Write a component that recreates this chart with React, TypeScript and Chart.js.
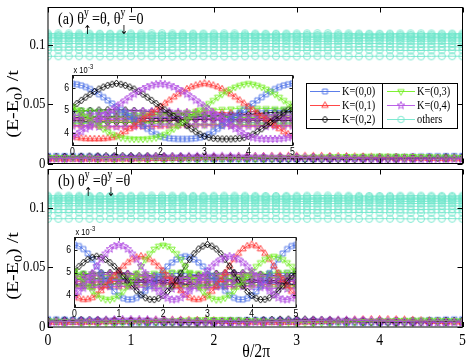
import React, { useEffect, useRef } from 'react';
import { Chart, registerables } from 'chart.js';
Chart.register(...registerables);

// ---------------- data (energies in units of 1e-3 t) ----------------
const X_MAIN = [0,0.125,0.25,0.375,0.5,0.625,0.75,0.875,1,1.125,1.25,1.375,1.5,1.625,1.75,1.875,2,2.125,2.25,2.375,2.5,2.625,2.75,2.875,3,3.125,3.25,3.375,3.5,3.625,3.75,3.875,4,4.125,4.25,4.375,4.5,4.625,4.75,4.875,5];
const X_FINE = [0,0.1,0.2,0.3,0.4,0.5,0.6,0.7,0.8,0.9,1,1.1,1.2,1.3,1.4,1.5,1.6,1.7,1.8,1.9,2,2.1,2.2,2.3,2.4,2.5,2.6,2.7,2.8,2.9,3,3.1,3.2,3.3,3.4,3.5,3.6,3.7,3.8,3.9,4,4.1,4.2,4.3,4.4,4.5,4.6,4.7,4.8,4.9,5];
const X_COARSE = [0,0.2,0.4,0.6,0.8,1,1.2,1.4,1.6,1.8,2,2.2,2.4,2.6,2.8,3,3.2,3.4,3.6,3.8,4,4.2,4.4,4.6,4.8,5];

const X_TICKS = [0,1,2,3,4,5];
const X_TICK_LABELS = ['0','1','2','3','4','5'];
const Y_MAIN_TICKS = [0,0.05,0.1];
const Y_MAIN_TICK_LABELS = ['0','0.05','0.1'];
const Y_INSET_TICKS = [4,5,6];
const Y_INSET_TICK_LABELS = ['4','5','6'];
const LEGEND_LABELS = ['K=(0,0)','K=(0,1)','K=(0,2)','K=(0,3)','K=(0,4)','others'];

// "others" (cyan) levels, main panels
const OTHERS_1 = [110.0,110.1,110.1,110.0,109.9,109.8,109.8,109.9,110.0,110.1,110.2,110.2,110.1,110.0,109.9,109.9,110.0,110.1,110.1,110.0,109.9,109.8,109.8,109.9,110.0,110.1,110.2,110.2,110.1,110.0,109.9,109.8,109.8,109.9,110.0,110.1,110.1,110.0,109.9,109.9,110.0];
const OTHERS_2 = [108.9,108.8,108.8,108.9,109.0,109.1,109.1,109.0,108.9,108.8,108.7,108.7,108.8,108.9,109.0,109.0,108.9,108.8,108.8,108.9,109.0,109.1,109.1,109.0,108.9,108.8,108.7,108.7,108.8,108.9,109.0,109.1,109.1,109.0,108.9,108.8,108.8,108.9,109.0,109.0,108.9];
const OTHERS_3 = [107.8,107.9,108.0,108.0,107.9,107.8,107.7,107.6,107.6,107.7,107.8,107.9,108.0,108.0,107.9,107.8,107.7,107.7,107.8,107.9,108.0,108.0,107.9,107.8,107.7,107.6,107.6,107.7,107.8,107.9,108.0,108.0,107.9,107.8,107.7,107.6,107.6,107.7,107.8,107.8,107.8];
const OTHERS_4 = [106.6,106.5,106.5,106.6,106.7,106.8,106.8,106.7,106.6,106.5,106.4,106.4,106.5,106.6,106.7,106.8,106.8,106.7,106.6,106.5,106.5,106.6,106.7,106.8,106.8,106.7,106.6,106.5,106.4,106.4,106.5,106.6,106.7,106.8,106.8,106.7,106.6,106.5,106.5,106.6,106.6];
const OTHERS_5 = [105.4,105.5,105.6,105.6,105.5,105.4,105.3,105.2,105.2,105.3,105.4,105.5,105.6,105.6,105.5,105.4,105.3,105.3,105.4,105.5,105.6,105.6,105.5,105.4,105.3,105.2,105.2,105.3,105.4,105.5,105.6,105.6,105.5,105.4,105.3,105.2,105.2,105.3,105.4,105.4,105.4];
const OTHERS_6 = [103.6,103.5,103.5,103.6,103.7,103.8,103.8,103.7,103.6,103.5,103.4,103.4,103.5,103.6,103.7,103.7,103.6,103.5,103.5,103.6,103.7,103.8,103.8,103.7,103.6,103.5,103.4,103.4,103.5,103.6,103.7,103.8,103.8,103.7,103.6,103.5,103.5,103.6,103.7,103.7,103.6];
const OTHERS_7 = [101.4,101.5,101.6,101.6,101.5,101.4,101.3,101.2,101.2,101.3,101.4,101.5,101.6,101.6,101.5,101.4,101.3,101.3,101.4,101.5,101.6,101.6,101.5,101.4,101.3,101.2,101.2,101.3,101.4,101.5,101.6,101.6,101.5,101.4,101.3,101.2,101.2,101.3,101.4,101.4,101.4];
const OTHERS_8 = [98.6,98.5,98.5,98.6,98.7,98.8,98.8,98.7,98.6,98.5,98.4,98.4,98.5,98.6,98.7,98.7,98.6,98.5,98.5,98.6,98.7,98.8,98.8,98.7,98.6,98.5,98.4,98.4,98.5,98.6,98.7,98.8,98.8,98.7,98.6,98.5,98.5,98.6,98.7,98.7,98.6];
const OTHERS_9 = [95.8,95.9,96.0,96.0,95.9,95.8,95.7,95.6,95.6,95.7,95.8,95.9,96.0,96.0,95.9,95.8,95.7,95.7,95.8,95.9,96.0,96.0,95.9,95.8,95.7,95.6,95.6,95.7,95.8,95.9,96.0,96.0,95.9,95.8,95.7,95.6,95.6,95.7,95.8,95.8,95.8];
const OTHERS_10 = [90.7,90.7,90.8,90.8,90.7,90.6,90.6,90.7,90.8,90.8,90.7,90.6,90.6,90.7,90.8,90.8,90.7,90.6,90.6,90.7,90.8,90.8,90.7,90.6,90.6,90.7,90.8,90.8,90.7,90.6,90.6,90.7,90.8,90.8,90.7,90.6,90.6,90.7,90.8,90.8,90.7];

// panel (a): strongly dispersing level of each K
const A_K00 = [6.18,6.16,6.11,6.04,5.95,5.84,5.72,5.59,5.45,5.31,5.17,5.03,4.89,4.75,4.61,4.47,4.33,4.19,4.06,3.95,3.86,3.80,3.77,3.75,3.74,3.74,3.74,3.75,3.77,3.80,3.86,3.95,4.06,4.19,4.33,4.47,4.61,4.75,4.89,5.03,5.17,5.31,5.45,5.59,5.72,5.84,5.95,6.04,6.11,6.16,6.20];
const A_K01 = [3.86,3.80,3.77,3.75,3.74,3.74,3.74,3.75,3.77,3.80,3.86,3.95,4.06,4.19,4.33,4.47,4.61,4.75,4.89,5.03,5.17,5.31,5.45,5.59,5.72,5.84,5.95,6.04,6.11,6.16,6.20,6.16,6.11,6.04,5.95,5.84,5.72,5.59,5.45,5.31,5.17,5.03,4.89,4.75,4.61,4.47,4.33,4.19,4.06,3.95,3.86];
const A_K02 = [5.17,5.31,5.45,5.59,5.72,5.84,5.95,6.04,6.11,6.16,6.20,6.16,6.11,6.04,5.95,5.84,5.72,5.59,5.45,5.31,5.17,5.03,4.89,4.75,4.61,4.47,4.33,4.19,4.06,3.95,3.86,3.80,3.77,3.75,3.74,3.74,3.74,3.75,3.77,3.80,3.86,3.95,4.06,4.19,4.33,4.47,4.61,4.75,4.89,5.03,5.17];
const A_K03 = [5.17,5.03,4.89,4.75,4.61,4.47,4.33,4.19,4.06,3.95,3.86,3.80,3.77,3.75,3.74,3.74,3.74,3.75,3.77,3.80,3.86,3.95,4.06,4.19,4.33,4.47,4.61,4.75,4.89,5.03,5.17,5.31,5.45,5.59,5.72,5.84,5.95,6.04,6.11,6.16,6.20,6.16,6.11,6.04,5.95,5.84,5.72,5.59,5.45,5.31,5.17];
const A_K04 = [3.86,3.95,4.06,4.19,4.33,4.47,4.61,4.75,4.89,5.03,5.17,5.31,5.45,5.59,5.72,5.84,5.95,6.04,6.11,6.16,6.18,6.16,6.11,6.04,5.95,5.84,5.72,5.59,5.45,5.31,5.17,5.03,4.89,4.75,4.61,4.47,4.33,4.19,4.06,3.95,3.86,3.80,3.77,3.75,3.74,3.74,3.74,3.75,3.77,3.80,3.86];
// panel (a): weakly dispersing levels
const A_K00_C1 = [5.00,4.99,4.97,4.94,4.90,4.86,4.82,4.78,4.74,4.71,4.69,4.68,4.68,4.69,4.71,4.74,4.78,4.82,4.86,4.90,4.94,4.97,4.99,5.00,5.01,5.00];
const A_K00_C2 = [4.45,4.46,4.48,4.50,4.53,4.56,4.59,4.62,4.64,4.66,4.67,4.67,4.66,4.65,4.63,4.60,4.57,4.54,4.51,4.49,4.47,4.45,4.44,4.44,4.44,4.45];
const A_K00_C3 = [4.78,4.77,4.75,4.74,4.74,4.75,4.77,4.79,4.81,4.82,4.82,4.81,4.79,4.77,4.75,4.74,4.74,4.75,4.77,4.79,4.81,4.82,4.82,4.81,4.79,4.78];
const A_K01_C1 = [4.34,4.33,4.32,4.31,4.30,4.29,4.28,4.28,4.28,4.29,4.30,4.31,4.33,4.35,4.37,4.38,4.38,4.37,4.36,4.35,4.34,4.34,4.34,4.34,4.34,4.34];
const A_K01_C2 = [4.70,4.69,4.68,4.68,4.69,4.70,4.72,4.74,4.77,4.80,4.83,4.86,4.89,4.91,4.93,4.94,4.93,4.91,4.89,4.86,4.83,4.80,4.77,4.74,4.72,4.70];
const A_K01_C3 = [4.63,4.62,4.60,4.58,4.56,4.55,4.54,4.54,4.55,4.56,4.58,4.60,4.62,4.63,4.64,4.64,4.63,4.62,4.61,4.60,4.60,4.61,4.62,4.63,4.63,4.63];
const A_K02_C1 = [4.95,4.98,5.00,5.02,5.03,5.03,5.02,5.00,4.98,4.95,4.92,4.89,4.86,4.83,4.81,4.79,4.78,4.78,4.79,4.81,4.83,4.86,4.89,4.92,4.94,4.95];
const A_K02_C2 = [4.55,4.53,4.51,4.49,4.48,4.47,4.47,4.48,4.49,4.51,4.53,4.55,4.57,4.59,4.60,4.61,4.61,4.60,4.59,4.58,4.57,4.56,4.56,4.55,4.55,4.55];
const A_K02_C3 = [4.68,4.69,4.71,4.72,4.72,4.71,4.69,4.67,4.66,4.65,4.65,4.66,4.68,4.70,4.72,4.73,4.73,4.72,4.70,4.68,4.66,4.65,4.65,4.66,4.67,4.68];
const A_K03_C1 = [5.05,5.02,4.99,4.96,4.93,4.90,4.88,4.86,4.85,4.85,4.86,4.88,4.90,4.93,4.96,4.99,5.02,5.05,5.07,5.09,5.10,5.10,5.09,5.08,5.07,5.05];
const A_K03_C2 = [4.40,4.42,4.44,4.46,4.47,4.48,4.48,4.47,4.45,4.43,4.41,4.39,4.37,4.36,4.35,4.35,4.35,4.36,4.37,4.38,4.39,4.40,4.40,4.40,4.40,4.40];
const A_K03_C3 = [4.76,4.75,4.73,4.71,4.70,4.69,4.69,4.70,4.72,4.74,4.76,4.78,4.79,4.79,4.78,4.76,4.74,4.72,4.70,4.69,4.69,4.70,4.72,4.74,4.76,4.76];
const A_K04_C1 = [4.78,4.80,4.83,4.86,4.89,4.92,4.94,4.96,4.97,4.97,4.97,4.96,4.94,4.92,4.89,4.86,4.83,4.80,4.78,4.76,4.75,4.75,4.75,4.76,4.77,4.78];
const A_K04_C2 = [4.30,4.29,4.28,4.27,4.27,4.27,4.28,4.29,4.31,4.33,4.35,4.36,4.37,4.37,4.36,4.35,4.34,4.32,4.31,4.30,4.29,4.29,4.29,4.30,4.30,4.30];
const A_K04_C3 = [4.62,4.61,4.60,4.60,4.60,4.61,4.63,4.65,4.67,4.69,4.70,4.70,4.69,4.67,4.65,4.63,4.61,4.59,4.58,4.57,4.57,4.58,4.59,4.60,4.61,4.62];

// panel (b): strongly dispersing level of each K
const B_K00 = [6.22,6.17,6.04,5.84,5.58,5.28,4.97,4.67,4.40,4.16,3.98,3.86,3.80,3.81,3.88,4.01,4.19,4.40,4.62,4.85,5.07,5.27,5.44,5.58,5.67,5.72,5.67,5.58,5.44,5.27,5.07,4.85,4.62,4.40,4.19,4.01,3.88,3.81,3.80,3.86,3.98,4.16,4.40,4.67,4.97,5.28,5.58,5.84,6.04,6.17,6.22];
const B_K01 = [3.98,3.86,3.80,3.81,3.88,4.01,4.19,4.40,4.62,4.85,5.07,5.27,5.44,5.58,5.67,5.72,5.67,5.58,5.44,5.27,5.07,4.85,4.62,4.40,4.19,4.01,3.88,3.81,3.80,3.86,3.98,4.16,4.40,4.67,4.97,5.28,5.58,5.84,6.04,6.17,6.24,6.17,6.04,5.84,5.58,5.28,4.97,4.67,4.40,4.16,3.98];
const B_K02 = [5.07,5.27,5.44,5.58,5.67,5.72,5.67,5.58,5.44,5.27,5.07,4.85,4.62,4.40,4.19,4.01,3.88,3.81,3.80,3.86,3.98,4.16,4.40,4.67,4.97,5.28,5.58,5.84,6.04,6.17,6.24,6.17,6.04,5.84,5.58,5.28,4.97,4.67,4.40,4.16,3.98,3.86,3.80,3.81,3.88,4.01,4.19,4.40,4.62,4.85,5.07];
const B_K03 = [5.07,4.85,4.62,4.40,4.19,4.01,3.88,3.81,3.80,3.86,3.98,4.16,4.40,4.67,4.97,5.28,5.58,5.84,6.04,6.17,6.22,6.17,6.04,5.84,5.58,5.28,4.97,4.67,4.40,4.16,3.98,3.86,3.80,3.81,3.88,4.01,4.19,4.40,4.62,4.85,5.07,5.27,5.44,5.58,5.67,5.72,5.67,5.58,5.44,5.27,5.07];
const B_K04 = [3.98,4.16,4.40,4.67,4.97,5.28,5.58,5.84,6.04,6.17,6.22,6.17,6.04,5.84,5.58,5.28,4.97,4.67,4.40,4.16,3.98,3.86,3.80,3.81,3.88,4.01,4.19,4.40,4.62,4.85,5.07,5.27,5.44,5.58,5.67,5.72,5.67,5.58,5.44,5.27,5.07,4.85,4.62,4.40,4.19,4.01,3.88,3.81,3.80,3.86,3.98];
// panel (b): weakly dispersing levels
const B_K00_C1 = [4.95,4.93,4.88,4.82,4.77,4.74,4.74,4.77,4.82,4.88,4.93,4.96,4.96,4.93,4.88,4.82,4.77,4.74,4.74,4.77,4.82,4.88,4.93,4.96,4.97,4.96];
const B_K00_C2 = [4.50,4.52,4.56,4.60,4.63,4.64,4.63,4.60,4.56,4.52,4.49,4.47,4.47,4.49,4.52,4.56,4.60,4.63,4.64,4.63,4.60,4.56,4.52,4.49,4.48,4.50];
const B_K00_C3 = [4.70,4.71,4.72,4.72,4.71,4.69,4.67,4.66,4.66,4.67,4.69,4.71,4.72,4.72,4.71,4.69,4.67,4.66,4.66,4.67,4.69,4.71,4.72,4.72,4.71,4.70];
const B_K01_C1 = [4.40,4.38,4.36,4.35,4.35,4.37,4.40,4.44,4.47,4.49,4.49,4.47,4.44,4.40,4.37,4.35,4.35,4.36,4.38,4.41,4.44,4.46,4.47,4.46,4.43,4.40];
const B_K01_C2 = [4.80,4.83,4.87,4.90,4.92,4.92,4.90,4.86,4.82,4.78,4.75,4.74,4.75,4.78,4.82,4.86,4.90,4.92,4.92,4.90,4.87,4.83,4.80,4.78,4.78,4.80];
const B_K01_C3 = [4.60,4.59,4.58,4.58,4.59,4.61,4.63,4.65,4.66,4.66,4.65,4.63,4.61,4.59,4.58,4.58,4.59,4.61,4.63,4.65,4.66,4.66,4.65,4.63,4.61,4.60];
const B_K02_C1 = [4.88,4.92,4.96,4.99,5.00,4.99,4.96,4.92,4.88,4.84,4.81,4.80,4.81,4.84,4.88,4.92,4.96,4.99,5.00,4.99,4.96,4.92,4.88,4.85,4.85,4.88];
const B_K02_C2 = [4.45,4.44,4.44,4.45,4.48,4.51,4.54,4.57,4.58,4.58,4.56,4.53,4.50,4.47,4.45,4.44,4.44,4.45,4.48,4.51,4.54,4.57,4.58,4.56,4.50,4.45];
const B_K02_C3 = [4.68,4.70,4.72,4.73,4.73,4.71,4.69,4.67,4.65,4.64,4.64,4.65,4.67,4.69,4.71,4.73,4.73,4.72,4.70,4.68,4.66,4.64,4.64,4.65,4.67,4.68];
const B_K03_C1 = [5.00,4.97,4.93,4.89,4.86,4.85,4.86,4.89,4.93,4.97,5.00,5.02,5.02,5.00,4.97,4.93,4.89,4.86,4.85,4.86,4.89,4.93,4.97,5.00,5.01,5.00];
const B_K03_C2 = [4.35,4.37,4.40,4.43,4.45,4.46,4.45,4.43,4.40,4.37,4.35,4.34,4.34,4.35,4.37,4.40,4.43,4.45,4.46,4.45,4.43,4.40,4.37,4.35,4.34,4.35];
const B_K03_C3 = [4.75,4.74,4.72,4.71,4.71,4.72,4.74,4.77,4.79,4.80,4.80,4.78,4.76,4.74,4.72,4.71,4.71,4.72,4.74,4.77,4.79,4.80,4.80,4.78,4.76,4.75];
const B_K04_C1 = [4.80,4.83,4.87,4.91,4.93,4.94,4.93,4.90,4.86,4.82,4.79,4.77,4.77,4.79,4.82,4.86,4.90,4.93,4.94,4.93,4.91,4.87,4.83,4.80,4.79,4.80];
const B_K04_C2 = [4.28,4.30,4.33,4.36,4.38,4.39,4.38,4.36,4.33,4.30,4.28,4.27,4.27,4.28,4.30,4.33,4.36,4.38,4.39,4.38,4.36,4.33,4.30,4.28,4.27,4.28];
const B_K04_C3 = [4.62,4.63,4.64,4.65,4.65,4.64,4.62,4.60,4.58,4.57,4.57,4.58,4.60,4.62,4.64,4.65,4.65,4.64,4.62,4.60,4.58,4.57,4.57,4.58,4.60,4.62];

// ---------------- styling ----------------
const COLORS = ['#4a6fe6', '#ff3333', '#000000', '#70ee1e', '#b24fe3', '#6fe6cc'];
const SHAPES = ['square', 'triUp', 'diamond', 'triDown', 'star', 'circle'];
const SIZES = [3.4, 3.7, 3.5, 3.7, 4.0, 3.2];
const SX = 0.83;
const SERIF = "'Liberation Serif','Times New Roman',serif";
const SANS = "'Liberation Sans',Arial,sans-serif";
const ARROWS = "'DejaVu Sans',sans-serif";

type Ser = { k: number; xs: number[]; ys: number[] };

const OTHERS = [OTHERS_1, OTHERS_2, OTHERS_3, OTHERS_4, OTHERS_5, OTHERS_6, OTHERS_7, OTHERS_8, OTHERS_9, OTHERS_10];

const SERIES_A: Ser[] = [
  { k: 0, xs: X_COARSE, ys: A_K00_C1 }, { k: 0, xs: X_COARSE, ys: A_K00_C2 }, { k: 0, xs: X_COARSE, ys: A_K00_C3 },
  { k: 1, xs: X_COARSE, ys: A_K01_C1 }, { k: 1, xs: X_COARSE, ys: A_K01_C2 }, { k: 1, xs: X_COARSE, ys: A_K01_C3 },
  { k: 2, xs: X_COARSE, ys: A_K02_C1 }, { k: 2, xs: X_COARSE, ys: A_K02_C2 }, { k: 2, xs: X_COARSE, ys: A_K02_C3 },
  { k: 3, xs: X_COARSE, ys: A_K03_C1 }, { k: 3, xs: X_COARSE, ys: A_K03_C2 }, { k: 3, xs: X_COARSE, ys: A_K03_C3 },
  { k: 4, xs: X_COARSE, ys: A_K04_C1 }, { k: 4, xs: X_COARSE, ys: A_K04_C2 }, { k: 4, xs: X_COARSE, ys: A_K04_C3 },
  { k: 0, xs: X_FINE, ys: A_K00 }, { k: 1, xs: X_FINE, ys: A_K01 }, { k: 2, xs: X_FINE, ys: A_K02 },
  { k: 3, xs: X_FINE, ys: A_K03 }, { k: 4, xs: X_FINE, ys: A_K04 },
];
const SERIES_B: Ser[] = [
  { k: 0, xs: X_COARSE, ys: B_K00_C1 }, { k: 0, xs: X_COARSE, ys: B_K00_C2 }, { k: 0, xs: X_COARSE, ys: B_K00_C3 },
  { k: 1, xs: X_COARSE, ys: B_K01_C1 }, { k: 1, xs: X_COARSE, ys: B_K01_C2 }, { k: 1, xs: X_COARSE, ys: B_K01_C3 },
  { k: 2, xs: X_COARSE, ys: B_K02_C1 }, { k: 2, xs: X_COARSE, ys: B_K02_C2 }, { k: 2, xs: X_COARSE, ys: B_K02_C3 },
  { k: 3, xs: X_COARSE, ys: B_K03_C1 }, { k: 3, xs: X_COARSE, ys: B_K03_C2 }, { k: 3, xs: X_COARSE, ys: B_K03_C3 },
  { k: 4, xs: X_COARSE, ys: B_K04_C1 }, { k: 4, xs: X_COARSE, ys: B_K04_C2 }, { k: 4, xs: X_COARSE, ys: B_K04_C3 },
  { k: 0, xs: X_FINE, ys: B_K00 }, { k: 1, xs: X_FINE, ys: B_K01 }, { k: 2, xs: X_FINE, ys: B_K02 },
  { k: 3, xs: X_FINE, ys: B_K03 }, { k: 4, xs: X_FINE, ys: B_K04 },
];

// ---------------- helpers ----------------
function makeMarker(shape: string, color: string, s: number): HTMLCanvasElement {
  const size = Math.ceil(s * 2 + 4);
  const c = document.createElement('canvas');
  c.width = size; c.height = size;
  const g = c.getContext('2d')!;
  const m = size / 2;
  g.strokeStyle = color; g.lineWidth = 0.9; g.beginPath();
  if (shape === 'square') { const h = s * 0.72; g.rect(m - h, m - h, 2 * h, 2 * h); }
  else if (shape === 'triUp') { g.moveTo(m, m - s); g.lineTo(m + s * 0.87, m + s * 0.5); g.lineTo(m - s * 0.87, m + s * 0.5); g.closePath(); }
  else if (shape === 'triDown') { g.moveTo(m, m + s); g.lineTo(m + s * 0.87, m - s * 0.5); g.lineTo(m - s * 0.87, m - s * 0.5); g.closePath(); }
  else if (shape === 'diamond') { g.moveTo(m, m - s); g.lineTo(m + s * 0.8, m); g.lineTo(m, m + s); g.lineTo(m - s * 0.8, m); g.closePath(); }
  else if (shape === 'star') {
    for (let i = 0; i < 10; i++) {
      const r = i % 2 === 0 ? s : s * 0.42;
      const a = -Math.PI / 2 + (i * Math.PI) / 5;
      const px = m + r * Math.cos(a), py = m + r * Math.sin(a);
      if (i === 0) g.moveTo(px, py); else g.lineTo(px, py);
    }
    g.closePath();
  } else { g.arc(m, m, s, 0, Math.PI * 2); }
  g.stroke();
  return c;
}
function markerSet(f: number) {
  return SHAPES.map((sh, i) => makeMarker(sh, COLORS[i], SIZES[i] * f));
}

function put(ctx: CanvasRenderingContext2D, s: string, x: number, y: number, size: number, fam: string,
  align: CanvasTextAlign = 'left', base: CanvasTextBaseline = 'alphabetic'): number {
  ctx.save();
  ctx.translate(x, y); ctx.scale(SX, 1);
  ctx.font = `${size}px ${fam}`; ctx.textAlign = align; ctx.textBaseline = base; ctx.fillStyle = '#000';
  ctx.fillText(s, 0, 0);
  const w = ctx.measureText(s).width * SX;
  ctx.restore();
  return w;
}

type Rich = string | { sup: string; sub: string };
function rich(ctx: CanvasRenderingContext2D, x: number, base: number, F: number, items: Rich[]) {
  for (const it of items) {
    if (typeof it === 'string') x += put(ctx, it, x, base, F, SERIF);
    else {
      const w1 = put(ctx, it.sup, x, base - 0.45 * F, 0.68 * F, SERIF);
      const w2 = put(ctx, it.sub, x - 1, base + 0.58 * F, 0.72 * F, ARROWS);
      x += Math.max(w1, w2 - 1) + 0.5;
    }
  }
}

function yTitle(ctx: CanvasRenderingContext2D, cx: number, cy: number, F: number) {
  ctx.save();
  ctx.translate(cx, cy); ctx.rotate(-Math.PI / 2); ctx.scale(1, SX);
  ctx.fillStyle = '#000'; ctx.textBaseline = 'alphabetic'; ctx.textAlign = 'left';
  const f1 = `${F}px ${SERIF}`, f2 = `${0.7 * F}px ${SERIF}`;
  ctx.font = f1; const w1 = ctx.measureText('(E-E').width; const w3 = ctx.measureText(') /t').width;
  ctx.font = f2; const w2 = ctx.measureText('0').width;
  let x = -(w1 + w2 + w3) / 2; const b = 0.32 * F;
  ctx.font = f1; ctx.fillText('(E-E', x, b); x += w1;
  ctx.font = f2; ctx.fillText('0', x, b + 0.28 * F); x += w2;
  ctx.font = f1; ctx.fillText(') /t', x, b);
  ctx.restore();
}

function toDatasets(series: Ser[], markers: HTMLCanvasElement[], scale: number, lw: number) {
  return series.map((s) => ({
    data: s.ys.map((v, j) => ({ x: s.xs[j], y: v * scale })),
    borderColor: COLORS[s.k], backgroundColor: COLORS[s.k], borderWidth: lw,
    pointStyle: markers[s.k], pointRadius: 3.5, pointHoverRadius: 3.5, fill: false, tension: 0,
  }));
}

function withOrder(ds: any[]) {
  ds.forEach((d, i) => { d.order = ds.length - i; });
  return ds;
}

// ---------------- chart configs ----------------
function mainConfig(panel: 'a' | 'b', padTop: number, padBottom: number) {
  const mk = markerSet(1.1);
  const series = panel === 'a' ? SERIES_A : SERIES_B;
  const others = OTHERS.map((o) => ({
    data: o.map((v, j) => ({ x: X_MAIN[j], y: v * 1e-3 })),
    borderColor: COLORS[5], borderWidth: 0.9, pointStyle: mk[5], pointRadius: 3.2, pointHoverRadius: 3.2,
    fill: false, tension: 0,
  }));
  const datasets = withOrder([...others, ...toDatasets(series, mk, 1e-3, 0.8)]);
  const legendMk = markerSet(1.0);
  const decor = {
    id: 'decor' + panel,
    afterDatasetsDraw(chart: any) {
      const ctx: CanvasRenderingContext2D = chart.ctx; const ca = chart.chartArea;
      const xs = chart.scales.x, ys = chart.scales.y;
      ctx.save();
      ctx.strokeStyle = '#000'; ctx.lineWidth = 1;
      ctx.strokeRect(ca.left, ca.top, ca.right - ca.left, ca.bottom - ca.top);
      ctx.beginPath();
      for (const v of X_TICKS) {
        const px = Math.round(xs.getPixelForValue(v)) + 0.5;
        ctx.moveTo(px, ca.bottom); ctx.lineTo(px, ca.bottom - 5);
        ctx.moveTo(px, ca.top); ctx.lineTo(px, ca.top + 5);
      }
      for (const v of Y_MAIN_TICKS) {
        const py = Math.round(ys.getPixelForValue(v)) + 0.5;
        ctx.moveTo(ca.left, py); ctx.lineTo(ca.left + 5, py);
        ctx.moveTo(ca.right, py); ctx.lineTo(ca.right - 5, py);
      }
      ctx.stroke();
      Y_MAIN_TICKS.forEach((v, i) => put(ctx, Y_MAIN_TICK_LABELS[i], ca.left - 2.5, ys.getPixelForValue(v), 15.5, SERIF, 'right', 'middle'));
      if (panel === 'b') {
        X_TICKS.forEach((v, i) => put(ctx, X_TICK_LABELS[i], xs.getPixelForValue(v), ca.bottom + 14, 16.5, SERIF, 'center', 'middle'));
        put(ctx, 'θ/2π', (ca.left + ca.right) / 2 + 1, ca.bottom + 30, 19, SERIF, 'center', 'alphabetic');
        rich(ctx, 58, ca.top + 16.5, 17, ['(b) θ', { sup: 'y', sub: '↑' }, '=θ', { sup: 'y', sub: '↓' }, '=θ']);
      } else {
        rich(ctx, 58, ca.top + 16.5, 17, ['(a) θ', { sup: 'y', sub: '↑' }, '=θ, θ', { sup: 'y', sub: '↓' }, '=0']);
        // legend
        ctx.fillStyle = '#fff'; ctx.fillRect(306.5, 83.5, 151, 45);
        ctx.strokeStyle = '#000'; ctx.lineWidth = 1;
        ctx.strokeRect(306.5, 83.5, 151, 45);
        ctx.beginPath(); ctx.moveTo(382.5, 83.5); ctx.lineTo(382.5, 128.5); ctx.stroke();
        const rows = [91.5, 105.5, 119.5];
        const cols = [{ l0: 310, l1: 340, t: 342 }, { l0: 387, l1: 415, t: 417 }];
        LEGEND_LABELS.forEach((lab, i) => {
          const col = cols[Math.floor(i / 3)]; const y = rows[i % 3];
          ctx.strokeStyle = COLORS[i]; ctx.lineWidth = 0.9;
          ctx.beginPath(); ctx.moveTo(col.l0, y); ctx.lineTo(col.l1, y); ctx.stroke();
          const m = legendMk[i];
          ctx.drawImage(m, (col.l0 + col.l1) / 2 - m.width / 2, y - m.height / 2);
          put(ctx, lab, col.t, y + 0.5, 12.5, SERIF, 'left', 'middle');
        });
      }
      yTitle(ctx, 12.5, ca.top + 96.5, 20);
      ctx.restore();
    },
  };
  return {
    type: 'line',
    data: { datasets },
    options: {
      responsive: false, animation: false, events: [],
      layout: { padding: { left: 48, right: 8.5, top: padTop, bottom: padBottom } },
      scales: {
        x: { type: 'linear', min: 0, max: 5, display: false },
        y: { type: 'linear', min: 0, max: 0.132, display: false },
      },
      plugins: { legend: { display: false }, tooltip: { enabled: false } },
    },
    plugins: [decor],
  };
}

function insetConfig(panel: 'a' | 'b', pad: { left: number; right: number; top: number; bottom: number }) {
  const mk = markerSet(1.0);
  const series = panel === 'a' ? SERIES_A : SERIES_B;
  const datasets = withOrder(toDatasets(series, mk, 1, 0.8));
  const decor = {
    id: 'inset' + panel,
    beforeDatasetsDraw(chart: any) {
      const ctx: CanvasRenderingContext2D = chart.ctx; const ca = chart.chartArea;
      ctx.save(); ctx.fillStyle = '#fff';
      ctx.fillRect(ca.left, ca.top, ca.right - ca.left, ca.bottom - ca.top);
      ctx.restore();
    },
    afterDatasetsDraw(chart: any) {
      const ctx: CanvasRenderingContext2D = chart.ctx; const ca = chart.chartArea;
      const xs = chart.scales.x, ys = chart.scales.y;
      ctx.save();
      ctx.strokeStyle = '#1a1a1a'; ctx.lineWidth = 1;
      ctx.strokeRect(ca.left, ca.top, ca.right - ca.left, ca.bottom - ca.top);
      ctx.beginPath();
      for (const v of X_TICKS) {
        const px = Math.round(xs.getPixelForValue(v)) + 0.5;
        ctx.moveTo(px, ca.bottom); ctx.lineTo(px, ca.bottom - 3);
        ctx.moveTo(px, ca.top); ctx.lineTo(px, ca.top + 3);
      }
      for (const v of Y_INSET_TICKS) {
        const py = Math.round(ys.getPixelForValue(v)) + 0.5;
        ctx.moveTo(ca.left, py); ctx.lineTo(ca.left + 3, py);
        ctx.moveTo(ca.right, py); ctx.lineTo(ca.right - 3, py);
      }
      ctx.stroke();
      X_TICKS.forEach((v, i) => put(ctx, X_TICK_LABELS[i], xs.getPixelForValue(v), ca.bottom + 6.5, 10.5, SANS, 'center', 'middle'));
      Y_INSET_TICKS.forEach((v, i) => put(ctx, Y_INSET_TICK_LABELS[i], ca.left - 3.5, ys.getPixelForValue(v), 10.5, SANS, 'right', 'middle'));
      const w = put(ctx, 'x 10', ca.left + 1, ca.top - 3, 9, SANS);
      put(ctx, '-3', ca.left + 1 + w + 0.5, ca.top - 7, 7, SANS);
      ctx.restore();
    },
  };
  return {
    type: 'line',
    data: { datasets },
    options: {
      responsive: false, animation: false, events: [],
      layout: { padding: pad },
      scales: {
        x: { type: 'linear', min: 0, max: 5, display: false },
        y: { type: 'linear', min: 3.45, max: 6.55, display: false },
      },
      plugins: { legend: { display: false }, tooltip: { enabled: false } },
    },
    plugins: [decor],
  };
}

function ChartBox({ left, top, width, height, z, make }: { left: number; top: number; width: number; height: number; z: number; make: () => any }) {
  const ref = useRef<HTMLCanvasElement>(null);
  useEffect(() => {
    const chart = new Chart(ref.current as HTMLCanvasElement, make());
    return () => chart.destroy();
  }, []);
  return (
    <canvas ref={ref} width={width} height={height}
      style={{ position: 'absolute', left, top, width, height, zIndex: z, display: 'block' }} />
  );
}

export default function App() {
  return (
    <div style={{ position: 'absolute', left: 0, top: 0, width: 471, height: 360, background: '#fff', overflow: 'hidden' }}>
      <ChartBox left={0} top={0} width={471} height={170} z={1} make={() => mainConfig('a', 7.5, 6.5)} />
      <ChartBox left={0} top={160} width={471} height={200} z={1} make={() => mainConfig('b', 9.5, 33)} />
      <ChartBox left={50} top={58} width={255} height={100} z={2}
        make={() => insetConfig('a', { left: 22.5, right: 12.5, top: 17.5, bottom: 12.5 })} />
      <ChartBox left={50} top={220} width={255} height={100} z={2}
        make={() => insetConfig('b', { left: 24.5, right: 9, top: 17.5, bottom: 12.5 })} />
    </div>
  );
}
